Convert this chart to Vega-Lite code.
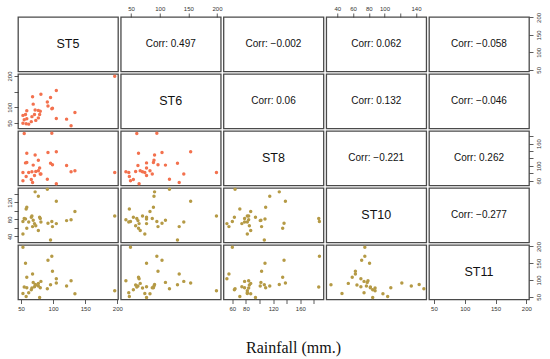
{
  "$schema": "https://vega.github.io/schema/vega-lite/v6.json",
  "background": "white",
  "padding": {"left": 5, "top": 4, "right": 5, "bottom": 5},
  "datasets": {
    "obs": [
      {"ST5":196,"ST6":199,"ST8":82,"ST10":88,"ST11":68},
      {"ST5":134,"ST6":83,"ST8":87,"ST10":98,"ST11":59},
      {"ST5":128,"ST6":41,"ST8":84,"ST10":79,"ST11":98},
      {"ST5":121,"ST6":62,"ST8":101,"ST10":77,"ST11":82},
      {"ST5":105,"ST6":154,"ST8":138,"ST10":122,"ST11":91},
      {"ST5":105,"ST6":64,"ST8":52,"ST10":70,"ST11":104},
      {"ST5":98,"ST6":95,"ST8":188,"ST10":75,"ST11":171},
      {"ST5":99,"ST6":97,"ST8":103,"ST10":63,"ST11":126},
      {"ST5":96,"ST6":131,"ST8":107,"ST10":32,"ST11":86},
      {"ST5":92,"ST6":104,"ST8":136,"ST10":71,"ST11":159},
      {"ST5":91,"ST6":117,"ST8":64,"ST10":150,"ST11":74},
      {"ST5":81,"ST6":142,"ST8":78,"ST10":74,"ST11":96},
      {"ST5":53,"ST6":74,"ST8":82,"ST10":46,"ST11":60},
      {"ST5":53,"ST6":49,"ST8":60,"ST10":75,"ST11":198},
      {"ST5":55,"ST6":60,"ST8":187,"ST10":82,"ST11":79},
      {"ST5":57,"ST6":77,"ST8":108,"ST10":81,"ST11":150},
      {"ST5":58,"ST6":47,"ST8":71,"ST10":104,"ST11":51},
      {"ST5":59,"ST6":89,"ST8":109,"ST10":108,"ST11":77},
      {"ST5":59,"ST6":63,"ST8":134,"ST10":59,"ST11":108},
      {"ST5":62,"ST6":46,"ST8":82,"ST10":74,"ST11":62},
      {"ST5":66,"ST6":54,"ST8":63,"ST10":85,"ST11":71},
      {"ST5":67,"ST6":70,"ST8":84,"ST10":88,"ST11":76},
      {"ST5":68,"ST6":134,"ST8":55,"ST10":63,"ST11":118},
      {"ST5":69,"ST6":110,"ST8":102,"ST10":78,"ST11":93},
      {"ST5":71,"ST6":77,"ST8":74,"ST10":70,"ST11":80},
      {"ST5":72,"ST6":91,"ST8":129,"ST10":144,"ST11":87},
      {"ST5":73,"ST6":58,"ST8":85,"ST10":65,"ST11":85},
      {"ST5":77,"ST6":90,"ST8":115,"ST10":134,"ST11":82},
      {"ST5":77,"ST6":66,"ST8":87,"ST10":54,"ST11":90},
      {"ST5":79,"ST6":77,"ST8":94,"ST10":85,"ST11":48},
      {"ST5":80,"ST6":87,"ST8":78,"ST10":82,"ST11":77}
    ],
    "cells": [
      {"cell":"r1c1","label":"ST5"},
      {"cell":"r1c2","label":"Corr: 0.497"},
      {"cell":"r1c3","label":"Corr: −0.002"},
      {"cell":"r1c4","label":"Corr: 0.062"},
      {"cell":"r1c5","label":"Corr: −0.058"},
      {"cell":"r2c2","label":"ST6"},
      {"cell":"r2c3","label":"Corr: 0.06"},
      {"cell":"r2c4","label":"Corr: 0.132"},
      {"cell":"r2c5","label":"Corr: −0.046"},
      {"cell":"r3c3","label":"ST8"},
      {"cell":"r3c4","label":"Corr: −0.221"},
      {"cell":"r3c5","label":"Corr: 0.262"},
      {"cell":"r4c4","label":"ST10"},
      {"cell":"r4c5","label":"Corr: −0.277"},
      {"cell":"r5c5","label":"ST11"}
    ]
  },
  "title": {"text": "Rainfall (mm.)", "orient": "bottom", "anchor": "middle", "font": "Liberation Serif", "fontSize": 16, "fontWeight": "normal", "color": "#111", "offset": 28, "dx": 20},
  "columns": 5,
  "bounds": "flush",
  "spacing": {"row": 2, "column": 2.75},
  "concat": [
    {"width":100,"height":54.5,"layer":[
      {"data":{"name":"obs"},"mark":{"type":"circle","opacity":0},"encoding":{"x":{"field":"ST5","type":"quantitative","scale":{"domain":[45.3,201.1],"nice":false,"zero":false},"axis":null},"y":{"field":"ST5","type":"quantitative","scale":{"domain":[45.3,201.1],"nice":false,"zero":false},"axis":null}}},
      {"data":{"name":"cells"},"transform":[{"filter":"datum.cell == 'r1c1'"}],"mark":{"type":"text","fontSize":12.5},"encoding":{"text":{"field":"label"}}}
    ]},
    {"width":100,"height":54.5,"layer":[
      {"data":{"name":"obs"},"mark":{"type":"circle","opacity":0},"encoding":{"x":{"field":"ST6","type":"quantitative","title":null,"scale":{"domain":[32,206.5],"nice":false,"zero":false},"axis":{"orient":"top","values":[50,100,150,200]}},"y":{"field":"ST5","type":"quantitative","scale":{"domain":[45.3,201.1],"nice":false,"zero":false},"axis":null}}},
      {"data":{"name":"cells"},"transform":[{"filter":"datum.cell == 'r1c2'"}],"mark":{"type":"text","fontSize":10},"encoding":{"text":{"field":"label"}}}
    ]},
    {"width":100,"height":54.5,"layer":[
      {"data":{"name":"obs"},"mark":{"type":"circle","opacity":0},"encoding":{"x":{"field":"ST8","type":"quantitative","scale":{"domain":[47,194],"nice":false,"zero":false},"axis":null},"y":{"field":"ST5","type":"quantitative","scale":{"domain":[45.3,201.1],"nice":false,"zero":false},"axis":null}}},
      {"data":{"name":"cells"},"transform":[{"filter":"datum.cell == 'r1c3'"}],"mark":{"type":"text","fontSize":10},"encoding":{"text":{"field":"label"}}}
    ]},
    {"width":100,"height":54.5,"layer":[
      {"data":{"name":"obs"},"mark":{"type":"circle","opacity":0},"encoding":{"x":{"field":"ST10","type":"quantitative","title":null,"scale":{"domain":[26,153],"nice":false,"zero":false},"axis":{"orient":"top","values":[40,60,80,100,120,140],"labelExpr":"datum.value == 120 ? '' : datum.label"}},"y":{"field":"ST5","type":"quantitative","scale":{"domain":[45.3,201.1],"nice":false,"zero":false},"axis":null}}},
      {"data":{"name":"cells"},"transform":[{"filter":"datum.cell == 'r1c4'"}],"mark":{"type":"text","fontSize":10},"encoding":{"text":{"field":"label"}}}
    ]},
    {"width":100,"height":54.5,"layer":[
      {"data":{"name":"obs"},"mark":{"type":"circle","opacity":0},"encoding":{"x":{"field":"ST11","type":"quantitative","scale":{"domain":[42,204.4],"nice":false,"zero":false},"axis":null},"y":{"field":"ST5","type":"quantitative","title":null,"scale":{"domain":[45.3,201.1],"nice":false,"zero":false},"axis":{"orient":"right","values":[50,100,150,200]}}}},
      {"data":{"name":"cells"},"transform":[{"filter":"datum.cell == 'r1c5'"}],"mark":{"type":"text","fontSize":10},"encoding":{"text":{"field":"label"}}}
    ]},

    {"width":100,"height":54.5,"data":{"name":"obs"},"mark":{"type":"circle","size":12,"opacity":1,"color":"#F3714E"},"encoding":{
      "x":{"field":"ST5","type":"quantitative","scale":{"domain":[45.3,201.1],"nice":false,"zero":false},"axis":null},
      "y":{"field":"ST6","type":"quantitative","title":null,"scale":{"domain":[32,206.5],"nice":false,"zero":false},"axis":{"orient":"left","values":[50,100,150,200],"labelExpr":"datum.value == 150 ? '' : datum.label"}}}},
    {"width":100,"height":54.5,"layer":[
      {"data":{"name":"obs"},"mark":{"type":"circle","opacity":0},"encoding":{"x":{"field":"ST6","type":"quantitative","scale":{"domain":[32,206.5],"nice":false,"zero":false},"axis":null},"y":{"field":"ST6","type":"quantitative","scale":{"domain":[32,206.5],"nice":false,"zero":false},"axis":null}}},
      {"data":{"name":"cells"},"transform":[{"filter":"datum.cell == 'r2c2'"}],"mark":{"type":"text","fontSize":12.5},"encoding":{"text":{"field":"label"}}}
    ]},
    {"width":100,"height":54.5,"layer":[
      {"data":{"name":"obs"},"mark":{"type":"circle","opacity":0},"encoding":{"x":{"field":"ST8","type":"quantitative","scale":{"domain":[47,194],"nice":false,"zero":false},"axis":null},"y":{"field":"ST6","type":"quantitative","scale":{"domain":[32,206.5],"nice":false,"zero":false},"axis":null}}},
      {"data":{"name":"cells"},"transform":[{"filter":"datum.cell == 'r2c3'"}],"mark":{"type":"text","fontSize":10},"encoding":{"text":{"field":"label"}}}
    ]},
    {"width":100,"height":54.5,"layer":[
      {"data":{"name":"obs"},"mark":{"type":"circle","opacity":0},"encoding":{"x":{"field":"ST10","type":"quantitative","scale":{"domain":[26,153],"nice":false,"zero":false},"axis":null},"y":{"field":"ST6","type":"quantitative","scale":{"domain":[32,206.5],"nice":false,"zero":false},"axis":null}}},
      {"data":{"name":"cells"},"transform":[{"filter":"datum.cell == 'r2c4'"}],"mark":{"type":"text","fontSize":10},"encoding":{"text":{"field":"label"}}}
    ]},
    {"width":100,"height":54.5,"layer":[
      {"data":{"name":"obs"},"mark":{"type":"circle","opacity":0},"encoding":{"x":{"field":"ST11","type":"quantitative","scale":{"domain":[42,204.4],"nice":false,"zero":false},"axis":null},"y":{"field":"ST6","type":"quantitative","scale":{"domain":[32,206.5],"nice":false,"zero":false},"axis":null}}},
      {"data":{"name":"cells"},"transform":[{"filter":"datum.cell == 'r2c5'"}],"mark":{"type":"text","fontSize":10},"encoding":{"text":{"field":"label"}}}
    ]},

    {"width":100,"height":54.5,"data":{"name":"obs"},"mark":{"type":"circle","size":12,"opacity":1,"color":"#F3714E"},"encoding":{
      "x":{"field":"ST5","type":"quantitative","scale":{"domain":[45.3,201.1],"nice":false,"zero":false},"axis":null},
      "y":{"field":"ST8","type":"quantitative","scale":{"domain":[47,194],"nice":false,"zero":false},"axis":null}}},
    {"width":100,"height":54.5,"data":{"name":"obs"},"mark":{"type":"circle","size":12,"opacity":1,"color":"#F3714E"},"encoding":{
      "x":{"field":"ST6","type":"quantitative","scale":{"domain":[32,206.5],"nice":false,"zero":false},"axis":null},
      "y":{"field":"ST8","type":"quantitative","scale":{"domain":[47,194],"nice":false,"zero":false},"axis":null}}},
    {"width":100,"height":54.5,"layer":[
      {"data":{"name":"obs"},"mark":{"type":"circle","opacity":0},"encoding":{"x":{"field":"ST8","type":"quantitative","scale":{"domain":[47,194],"nice":false,"zero":false},"axis":null},"y":{"field":"ST8","type":"quantitative","scale":{"domain":[47,194],"nice":false,"zero":false},"axis":null}}},
      {"data":{"name":"cells"},"transform":[{"filter":"datum.cell == 'r3c3'"}],"mark":{"type":"text","fontSize":12.5},"encoding":{"text":{"field":"label"}}}
    ]},
    {"width":100,"height":54.5,"layer":[
      {"data":{"name":"obs"},"mark":{"type":"circle","opacity":0},"encoding":{"x":{"field":"ST10","type":"quantitative","scale":{"domain":[26,153],"nice":false,"zero":false},"axis":null},"y":{"field":"ST8","type":"quantitative","scale":{"domain":[47,194],"nice":false,"zero":false},"axis":null}}},
      {"data":{"name":"cells"},"transform":[{"filter":"datum.cell == 'r3c4'"}],"mark":{"type":"text","fontSize":10},"encoding":{"text":{"field":"label"}}}
    ]},
    {"width":100,"height":54.5,"layer":[
      {"data":{"name":"obs"},"mark":{"type":"circle","opacity":0},"encoding":{"x":{"field":"ST11","type":"quantitative","scale":{"domain":[42,204.4],"nice":false,"zero":false},"axis":null},"y":{"field":"ST8","type":"quantitative","title":null,"scale":{"domain":[47,194],"nice":false,"zero":false},"axis":{"orient":"right","values":[60,80,100,120,140,160,180],"labelExpr":"indexof([60,100,160], datum.value) >= 0 ? datum.label : ''"}}}},
      {"data":{"name":"cells"},"transform":[{"filter":"datum.cell == 'r3c5'"}],"mark":{"type":"text","fontSize":10},"encoding":{"text":{"field":"label"}}}
    ]},

    {"width":100,"height":54.5,"data":{"name":"obs"},"mark":{"type":"circle","size":12,"opacity":1,"color":"#B59A45"},"encoding":{
      "x":{"field":"ST5","type":"quantitative","scale":{"domain":[45.3,201.1],"nice":false,"zero":false},"axis":null},
      "y":{"field":"ST10","type":"quantitative","title":null,"scale":{"domain":[26,153],"nice":false,"zero":false},"axis":{"orient":"left","values":[40,60,80,100,120,140],"labelExpr":"indexof([40,80,120], datum.value) >= 0 ? datum.label : ''"}}}},
    {"width":100,"height":54.5,"data":{"name":"obs"},"mark":{"type":"circle","size":12,"opacity":1,"color":"#B59A45"},"encoding":{
      "x":{"field":"ST6","type":"quantitative","scale":{"domain":[32,206.5],"nice":false,"zero":false},"axis":null},
      "y":{"field":"ST10","type":"quantitative","scale":{"domain":[26,153],"nice":false,"zero":false},"axis":null}}},
    {"width":100,"height":54.5,"data":{"name":"obs"},"mark":{"type":"circle","size":12,"opacity":1,"color":"#B59A45"},"encoding":{
      "x":{"field":"ST8","type":"quantitative","scale":{"domain":[47,194],"nice":false,"zero":false},"axis":null},
      "y":{"field":"ST10","type":"quantitative","scale":{"domain":[26,153],"nice":false,"zero":false},"axis":null}}},
    {"width":100,"height":54.5,"layer":[
      {"data":{"name":"obs"},"mark":{"type":"circle","opacity":0},"encoding":{"x":{"field":"ST10","type":"quantitative","scale":{"domain":[26,153],"nice":false,"zero":false},"axis":null},"y":{"field":"ST10","type":"quantitative","scale":{"domain":[26,153],"nice":false,"zero":false},"axis":null}}},
      {"data":{"name":"cells"},"transform":[{"filter":"datum.cell == 'r4c4'"}],"mark":{"type":"text","fontSize":12.5},"encoding":{"text":{"field":"label"}}}
    ]},
    {"width":100,"height":54.5,"layer":[
      {"data":{"name":"obs"},"mark":{"type":"circle","opacity":0},"encoding":{"x":{"field":"ST11","type":"quantitative","scale":{"domain":[42,204.4],"nice":false,"zero":false},"axis":null},"y":{"field":"ST10","type":"quantitative","scale":{"domain":[26,153],"nice":false,"zero":false},"axis":null}}},
      {"data":{"name":"cells"},"transform":[{"filter":"datum.cell == 'r4c5'"}],"mark":{"type":"text","fontSize":10},"encoding":{"text":{"field":"label"}}}
    ]},

    {"width":100,"height":54.5,"data":{"name":"obs"},"mark":{"type":"circle","size":12,"opacity":1,"color":"#B59A45"},"encoding":{
      "x":{"field":"ST5","type":"quantitative","title":null,"scale":{"domain":[45.3,201.1],"nice":false,"zero":false},"axis":{"orient":"bottom","values":[50,100,150,200]}},
      "y":{"field":"ST11","type":"quantitative","scale":{"domain":[42,204.4],"nice":false,"zero":false},"axis":null}}},
    {"width":100,"height":54.5,"data":{"name":"obs"},"mark":{"type":"circle","size":12,"opacity":1,"color":"#B59A45"},"encoding":{
      "x":{"field":"ST6","type":"quantitative","scale":{"domain":[32,206.5],"nice":false,"zero":false},"axis":null},
      "y":{"field":"ST11","type":"quantitative","scale":{"domain":[42,204.4],"nice":false,"zero":false},"axis":null}}},
    {"width":100,"height":54.5,"data":{"name":"obs"},"mark":{"type":"circle","size":12,"opacity":1,"color":"#B59A45"},"encoding":{
      "x":{"field":"ST8","type":"quantitative","title":null,"scale":{"domain":[47,194],"nice":false,"zero":false},"axis":{"orient":"bottom","values":[60,80,100,120,140,160,180],"labelExpr":"indexof([60,80,120,160], datum.value) >= 0 ? datum.label : ''"}},
      "y":{"field":"ST11","type":"quantitative","scale":{"domain":[42,204.4],"nice":false,"zero":false},"axis":null}}},
    {"width":100,"height":54.5,"data":{"name":"obs"},"mark":{"type":"circle","size":12,"opacity":1,"color":"#B59A45"},"encoding":{
      "x":{"field":"ST10","type":"quantitative","scale":{"domain":[26,153],"nice":false,"zero":false},"axis":null},
      "y":{"field":"ST11","type":"quantitative","scale":{"domain":[42,204.4],"nice":false,"zero":false},"axis":null}}},
    {"width":100,"height":54.5,"layer":[
      {"data":{"name":"obs"},"mark":{"type":"circle","opacity":0},"encoding":{
        "x":{"field":"ST11","type":"quantitative","title":null,"scale":{"domain":[42,204.4],"nice":false,"zero":false},"axis":{"orient":"bottom","values":[50,100,150,200]}},
        "y":{"field":"ST11","type":"quantitative","title":null,"scale":{"domain":[42,204.4],"nice":false,"zero":false},"axis":{"orient":"right","values":[50,100,150,200]}}}},
      {"data":{"name":"cells"},"transform":[{"filter":"datum.cell == 'r5c5'"}],"mark":{"type":"text","fontSize":12.5},"encoding":{"text":{"field":"label"}}}
    ]}
  ],
  "config": {
    "view": {"stroke": "#4a4a4a", "strokeWidth": 1.3},
    "axis": {"domain": false, "grid": false, "tickSize": 4, "tickColor": "#333", "tickWidth": 0.8, "labelFontSize": 6, "labelColor": "#333", "labelFont": "Liberation Sans", "labelPadding": 2, "labelFlush": false, "labelOverlap": false},
    "axisLeft": {"labelAngle": -90, "labelAlign": "center", "labelBaseline": "bottom"},
    "axisRight": {"labelAngle": -90, "labelAlign": "center", "labelBaseline": "top"},
    "text": {"font": "Liberation Sans", "color": "#111"}
  }
}
